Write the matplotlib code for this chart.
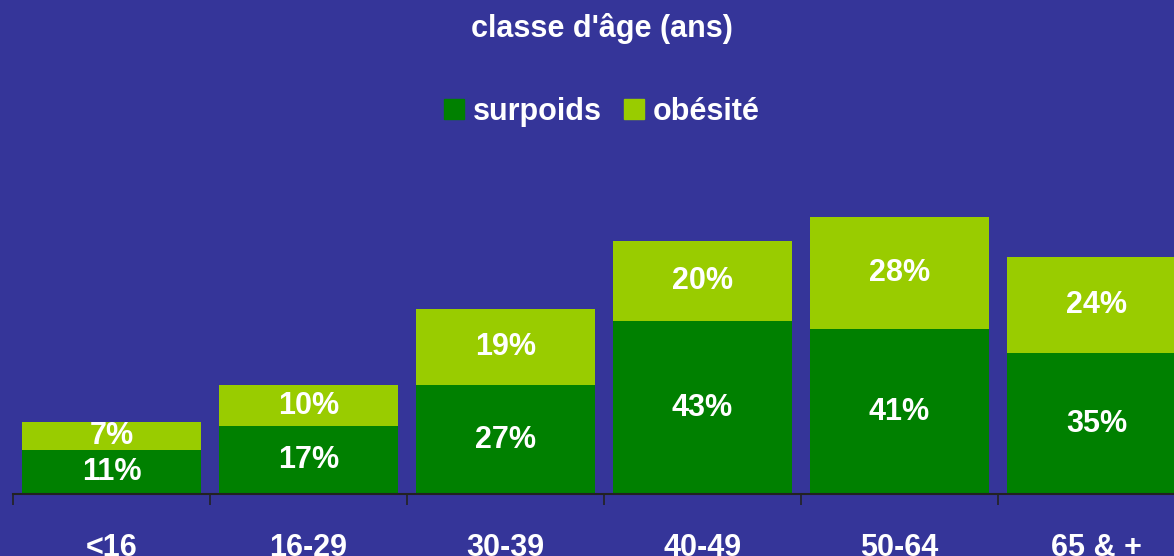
import numpy as np
import matplotlib.pyplot as plt
from matplotlib.patches import Patch

plt.rcParams['font.family'] = ['Liberation Sans', 'DejaVu Sans']

categories = ['<16', '16-29', '30-39', '40-49', '50-64', '65 & +']
surpoids = [11, 17, 27, 43, 41, 35]
obesite = [7, 10, 19, 20, 28, 24]

bg = '#353599'
dark_green = '#008000'
light_green = '#99cc00'

fig = plt.figure(figsize=(11.74, 5.56), dpi=100, facecolor=bg)
ax = fig.add_axes([13 / 1174, 62 / 556, 1182 / 1174, 402 / 556])
ax.set_facecolor('none')

x = np.arange(len(categories))
w = 0.91
ax.bar(x, surpoids, w, color=dark_green, label='surpoids')
ax.bar(x, obesite, w, bottom=surpoids, color=light_green, label='obésité')

for i in range(len(categories)):
    ax.text(x[i], surpoids[i] / 2, f'{surpoids[i]}%', ha='center', va='center',
            color='white', fontsize=22, fontweight='bold')
    ax.text(x[i], surpoids[i] + obesite[i] / 2, f'{obesite[i]}%', ha='center', va='center',
            color='white', fontsize=22, fontweight='bold')

ax.set_xlim(-0.5, len(categories) - 0.5)
ax.set_ylim(0, 100)
for s in ['left', 'right', 'top']:
    ax.spines[s].set_visible(False)
ax.spines['bottom'].set_color('#222222')
ax.spines['bottom'].set_linewidth(1.5)
ax.set_yticks([])

# tick marks at category boundaries, labels at centres
ax.set_xticks(np.arange(len(categories) + 1) - 0.5)
ax.set_xticklabels([])
ax.tick_params(axis='x', which='major', length=8, width=1.2, color='#222222', direction='out')
ax.set_xticks(x, minor=True)
ax.set_xticklabels(categories, minor=True)
ax.tick_params(axis='x', which='minor', length=0, pad=28, labelsize=22,
               labelcolor='white')
for lab in ax.get_xticklabels(minor=True):
    lab.set_fontweight('bold')

fig.text(602 / 1174, 1 - 29 / 556, "classe d'âge (ans)", ha='center', va='center',
         color='white', fontsize=22, fontweight='bold')

handles = [Patch(color=dark_green, label='surpoids'), Patch(color=light_green, label='obésité')]
leg = fig.legend(handles=handles, loc='center', bbox_to_anchor=(602 / 1174, 1 - 112 / 556),
                 ncol=2, frameon=False, fontsize=22, handlelength=0.65, handleheight=0.65,
                 handletextpad=0.3, columnspacing=0.7, borderpad=0)
for t in leg.get_texts():
    t.set_color('white')
    t.set_fontweight('bold')

fig.savefig('out.png', dpi=100, facecolor=bg)
